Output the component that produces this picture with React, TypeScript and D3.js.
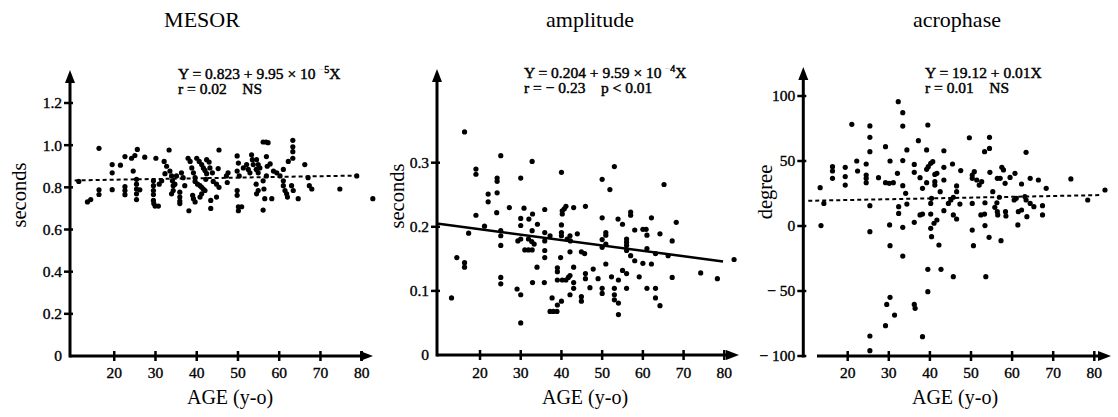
import React from "react";
import * as d3 from "d3";

// ---------- DATA ----------
const xTicks = [20, 30, 40, 50, 60, 70, 80];
const titles = ["MESOR", "amplitude", "acrophase"];
const yLabels = ["seconds", "seconds", "degree"];
const xLabel = "AGE (y-o)";

const mesorTicks = [0, 0.2, 0.4, 0.6, 0.8, 1.0, 1.2];
const mesorTickLabels = ["0", "0.2", "0.4", "0.6", "0.8", "1.0", "1.2"];
const ampTicks = [0, 0.1, 0.2, 0.3];
const ampTickLabels = ["0", "0.1", "0.2", "0.3"];
const acroTicks = [-100, -50, 0, 50, 100];
const acroTickLabels = ["− 100", "− 50", "0", "50", "100"];

// MESOR: [age, seconds]
const mesorPts: [number, number][] = [
  [11.4, 0.828], [13.5, 0.731], [14.3, 0.742], [16.3, 0.985], [16.3, 0.788], [16.3, 0.766],
  [19.5, 0.908], [19.5, 0.869], [19.5, 0.789], [21.5, 0.905], [22.6, 0.946], [22.6, 0.803],
  [22.6, 0.785], [22.6, 0.765], [24.2, 0.938], [25.0, 0.951], [25.6, 0.98], [24.6, 0.877],
  [25.4, 0.838], [25.4, 0.815], [25.4, 0.792], [25.4, 0.769], [25.4, 0.742], [26.2, 0.788],
  [27.4, 0.943], [30.1, 0.938], [29.5, 0.831], [29.5, 0.808], [29.5, 0.785], [29.5, 0.766],
  [29.5, 0.738], [29.6, 0.723], [29.9, 0.711], [30.7, 0.711], [30.9, 0.815], [31.5, 0.831],
  [32.3, 0.865], [33.3, 0.977], [32.1, 0.923], [32.7, 0.9], [33.5, 0.877], [33.9, 0.854],
  [34.1, 0.831], [34.3, 0.808], [33.9, 0.769], [35.1, 0.854], [34.7, 0.815], [34.3, 0.785],
  [36.3, 0.869], [36.7, 0.846], [35.9, 0.777], [35.9, 0.754], [35.9, 0.735], [35.9, 0.723],
  [37.1, 0.808], [38.1, 0.689], [37.9, 0.938], [38.4, 0.923], [38.8, 0.892], [39.2, 0.869],
  [39.6, 0.846], [39.6, 0.828], [39.0, 0.762], [39.2, 0.746], [39.6, 0.731], [40.0, 0.938],
  [40.6, 0.923], [41.2, 0.908], [41.6, 0.892], [42.0, 0.88], [42.4, 0.865], [42.2, 0.838],
  [40.2, 0.815], [40.8, 0.808], [41.2, 0.8], [41.6, 0.792], [42.0, 0.785], [40.8, 0.754],
  [41.2, 0.769], [43.4, 0.738], [43.4, 0.7], [42.4, 0.931], [43.0, 0.92], [43.2, 0.892],
  [43.8, 0.869], [44.0, 0.828], [45.2, 0.889], [44.8, 0.815], [45.4, 0.977], [45.4, 0.8],
  [44.8, 0.754], [47.2, 0.854], [47.6, 0.869], [47.4, 0.823], [49.8, 0.949], [50.1, 0.915],
  [49.8, 0.877], [50.3, 0.854], [49.8, 0.785], [49.8, 0.762], [50.1, 0.708], [50.1, 0.689],
  [50.9, 0.708], [51.3, 0.892], [52.1, 0.908], [52.5, 0.885], [52.9, 0.869], [53.3, 0.954],
  [53.5, 0.931], [53.7, 0.908], [54.4, 0.885], [54.5, 0.931], [54.9, 0.908], [55.3, 0.892],
  [54.9, 0.869], [54.4, 0.815], [54.9, 0.785], [54.5, 0.769], [56.1, 1.015], [56.8, 1.015],
  [57.3, 1.012], [56.9, 0.946], [57.1, 0.9], [56.9, 0.854], [56.1, 0.831], [56.3, 0.792],
  [56.5, 0.746], [56.1, 0.692], [57.8, 0.911], [58.6, 0.877], [58.2, 0.746], [63.3, 1.023],
  [63.3, 0.992], [63.3, 0.969], [63.3, 0.938], [61.0, 0.885], [62.2, 0.923], [59.4, 0.869],
  [60.2, 0.854], [61.0, 0.831], [61.0, 0.808], [61.4, 0.785], [61.8, 0.769], [62.0, 0.754],
  [63.0, 0.808], [63.4, 0.785], [64.6, 0.746], [66.2, 0.908], [67.0, 0.846], [67.3, 0.808],
  [67.9, 0.792], [74.7, 0.792], [78.8, 0.854], [82.7, 0.746],
];

// amplitude: [age, seconds]
const ampPts: [number, number][] = [
  [16.2, 0.348], [13.0, 0.089], [14.3, 0.152], [16.2, 0.144], [16.2, 0.137], [17.2, 0.19],
  [19.0, 0.29], [19.0, 0.282], [19.0, 0.218], [21.1, 0.201], [22.0, 0.251], [22.0, 0.239],
  [24.2, 0.276], [24.2, 0.271], [24.2, 0.253], [24.1, 0.222], [25.1, 0.311], [25.1, 0.194],
  [25.1, 0.186], [25.1, 0.171], [25.1, 0.121], [25.1, 0.111], [27.2, 0.23], [29.1, 0.103],
  [30.0, 0.276], [30.0, 0.213], [30.0, 0.202], [29.3, 0.178], [30.0, 0.181], [30.0, 0.094],
  [30.0, 0.05], [30.8, 0.229], [32.8, 0.302], [32.0, 0.212], [32.9, 0.22], [32.8, 0.194],
  [31.0, 0.164], [31.9, 0.164], [32.8, 0.164], [31.9, 0.181], [32.7, 0.177], [33.3, 0.173],
  [34.1, 0.204], [34.0, 0.137], [32.9, 0.113], [35.9, 0.227], [35.9, 0.191], [35.9, 0.178],
  [35.9, 0.163], [35.9, 0.152], [35.8, 0.113], [37.2, 0.186], [37.2, 0.068], [38.0, 0.068],
  [38.9, 0.068], [37.7, 0.089], [39.0, 0.078], [39.0, 0.136], [39.0, 0.13], [39.8, 0.152],
  [39.0, 0.117], [40.2, 0.117], [40.0, 0.285], [40.0, 0.203], [40.0, 0.191], [40.0, 0.186],
  [40.2, 0.225], [40.7, 0.228], [41.1, 0.232], [40.2, 0.22], [40.0, 0.084], [41.1, 0.117],
  [41.7, 0.121], [42.1, 0.124], [41.4, 0.181], [42.1, 0.186], [42.2, 0.178], [42.1, 0.161],
  [43.0, 0.23], [43.0, 0.137], [43.0, 0.113], [43.0, 0.104], [42.1, 0.094], [43.9, 0.189],
  [44.9, 0.161], [45.7, 0.158], [44.9, 0.091], [44.9, 0.084], [45.9, 0.232], [45.9, 0.127],
  [45.9, 0.119], [47.0, 0.105], [47.8, 0.134], [49.0, 0.119], [50.0, 0.214], [50.0, 0.18],
  [50.0, 0.168], [50.0, 0.104], [50.0, 0.096], [50.0, 0.274], [50.9, 0.191], [50.9, 0.187],
  [50.9, 0.173], [50.9, 0.142], [51.9, 0.258], [52.3, 0.122], [53.0, 0.294], [53.0, 0.104],
  [53.0, 0.094], [53.0, 0.086], [53.9, 0.212], [54.0, 0.117], [54.0, 0.081], [54.0, 0.063],
  [55.0, 0.204], [55.0, 0.132], [56.0, 0.127], [56.0, 0.181], [56.0, 0.176], [56.0, 0.171],
  [56.0, 0.163], [56.0, 0.104], [57.0, 0.223], [57.0, 0.218], [57.0, 0.155], [58.0, 0.195],
  [58.0, 0.147], [59.1, 0.122], [60.0, 0.196], [60.8, 0.196], [60.0, 0.143], [61.0, 0.187],
  [61.0, 0.166], [61.0, 0.104], [62.1, 0.214], [62.1, 0.142], [63.1, 0.158], [63.1, 0.104],
  [63.1, 0.089], [64.2, 0.189], [64.2, 0.077], [65.2, 0.266], [66.2, 0.155], [67.2, 0.178],
  [67.2, 0.121], [68.2, 0.207], [74.2, 0.128], [78.3, 0.119], [82.4, 0.149],
];

// acrophase: [age, degree]
const acroPts: [number, number][] = [
  [13.3, 29.5], [13.5, 0.3], [14.2, 17.4], [16.3, 45.6], [16.3, 42.3], [16.3, 36.7],
  [19.4, 45.1], [19.4, 38], [19.4, 31.5], [21.0, 78.2], [22.2, 50], [22.4, 42.3],
  [24.5, 47.7], [24.5, 39.2], [24.5, 36.7], [24.5, 33.3], [25.4, 77], [25.4, 68.2],
  [25.4, 57.2], [25.4, 15.6], [25.4, -4.4], [25.4, -84.6], [25.4, -95.9], [27.5, 37.2],
  [29.2, 61], [29.2, 33.3], [30.1, 32.8], [31.1, 33.3], [30.2, 0.8], [30.3, 50],
  [30.3, -15.1], [29.5, -60.3], [30.3, -54.9], [29.2, -76.7], [31.4, -68.5], [32.1, 40.5],
  [32.3, 95.6], [32.4, 14.9], [32.4, 9.7], [33.4, 87.2], [33.4, 76.9], [33.4, 50.3],
  [33.4, 31], [33.4, -1], [33.4, -23.1], [34.1, 25.1], [34.4, 16.9], [34.4, 58.5],
  [36.2, 47.4], [36.2, 41.3], [36.2, 2.8], [36.2, -60.3], [36.4, -63.3], [37.2, 65.6],
  [37.6, 37.2], [37.6, 8.5], [38.2, 9.2], [38.2, 29], [39.2, 58.5], [39.5, 77.7],
  [39.2, 33.3], [39.2, 43.6], [39.6, 45.6], [40.2, 48.2], [40.7, 49.5], [39.5, -33.3],
  [39.5, -50.5], [38.2, -85.1], [40.2, 17.4], [40.2, 9.2], [40.2, -1.8], [40.4, -8.2],
  [40.4, 21.3], [41.2, 39.7], [41.2, 34.1], [41.2, 31.5], [41.7, 40.5], [41.0, 2.1],
  [41.7, 4.6], [42.2, -14.6], [42.5, 26.4], [42.7, -33.3], [43.4, 57.9], [43.4, 45.1],
  [43.4, 35.4], [43.4, 11.8], [44.5, 17.4], [45.1, 20], [45.7, 22.1], [45.5, 47.7],
  [45.7, -39], [45.7, 8.5], [46.5, 30.8], [46.5, 26.4], [46.5, 5.4], [47.5, 42.6],
  [47.3, 16.9], [49.6, 67.9], [50.3, 39.2], [50.3, 36.7], [50.3, 17.4], [50.3, -3.1],
  [50.6, -15.1], [50.8, 41.8], [51.4, 35.4], [52.0, 31.5], [52.6, 34.1], [52.4, 8.5],
  [53.3, 9.2], [53.3, 57.2], [54.5, 68.2], [54.5, 59.7], [53.4, 17.9], [53.4, 0.3],
  [53.6, -39], [54.4, -8.7], [54.6, 41.3], [55.3, 26.4], [55.8, 14.4], [56.3, 17.9],
  [56.4, 11], [56.9, 22.1], [56.5, 8.5], [56.4, 36.7], [57.1, 36.7], [57.3, -11.3],
  [57.5, 45.1], [57.9, 43.1], [58.3, 32.8], [58.4, 11], [58.5, 7.7], [59.5, 37.4],
  [60.7, 40.5], [60.5, 20], [61.0, 21.3], [61.4, 0.8], [61.5, 11], [62.3, 12.3],
  [62.3, 32.3], [63.4, 56.7], [63.1, 22.6], [63.4, 20], [63.6, 7.2], [64.4, 17.4],
  [64.4, 36.7], [65.3, 14.9], [66.4, 35.4], [67.4, 15.6], [67.4, 8.5], [68.3, 29],
  [74.3, 36.2], [78.4, 20], [82.6, 27.7],
];

// fitted regression lines as drawn: [age, value]
const mesorFit: [number, number][] = [[10.4, 0.833], [79.6, 0.856]];
const ampFit: [number, number][] = [[9.4, 0.205], [79.7, 0.146]];
const acroFit: [number, number][] = [[10.4, 19.4], [81.8, 23.8]];

// regression text
const eqMesor = { pre: "Y = 0.823 + 9.95 × 10", exp: "5", post: "X", stat: "r = 0.02    NS" };
const eqAmp = { pre: "Y = 0.204 + 9.59 × 10", exp: "4", post: "X", stat: "r = − 0.23    p < 0.01" };
const eqAcro = { pre: "Y = 19.12 + 0.01X", exp: "", post: "", stat: "r = 0.01    NS" };

// ---------- LAYOUT ----------
const FONT = "'Liberation Serif', 'Times New Roman', serif";

type PanelCfg = {
  title: string;
  titleX: number;
  yLabel: string;
  yLabelPos: [number, number];
  axisX: number;
  xRange: [number, number];
  xAxisStart: number;
  xAxisEnd: number;
  yDomain: [number, number];
  yRange: [number, number];
  yTop: number;
  yTicks: number[];
  yTickLabels: string[];
  pts: [number, number][];
  fit: [number, number][];
  dashed: boolean;
  eq: { pre: string; exp: string; post: string; stat: string };
  eqPos: [number, number];
  xLabelX: number;
};

const panels: PanelCfg[] = [
  {
    title: titles[0], titleX: 202, yLabel: yLabels[0], yLabelPos: [19, 195],
    axisX: 70, xRange: [73, 361.7], xAxisStart: 70, xAxisEnd: 373,
    yDomain: [0, 1.2], yRange: [356, 103], yTop: 70,
    yTicks: mesorTicks, yTickLabels: mesorTickLabels,
    pts: mesorPts, fit: mesorFit, dashed: true, eq: eqMesor, eqPos: [178, 79], xLabelX: 230,
  },
  {
    title: titles[1], titleX: 590, yLabel: yLabels[1], yLabelPos: [397, 196],
    axisX: 437, xRange: [439.3, 724.3], xAxisStart: 437, xAxisEnd: 739,
    yDomain: [0, 0.3], yRange: [355, 162.7], yTop: 69,
    yTicks: ampTicks, yTickLabels: ampTickLabels,
    pts: ampPts, fit: ampFit, dashed: false, eq: eqAmp, eqPos: [524, 78], xLabelX: 585,
  },
  {
    title: titles[2], titleX: 957, yLabel: yLabels[2], yLabelPos: [765, 192],
    axisX: 803.3, xRange: [806.6, 1094.3], xAxisStart: 817, xAxisEnd: 1111,
    yDomain: [-100, 100], yRange: [356, 96], yTop: 67,
    yTicks: acroTicks, yTickLabels: acroTickLabels,
    pts: acroPts, fit: acroFit, dashed: true, eq: eqAcro, eqPos: [925, 78], xLabelX: 955,
  },
];

function Panel({ c }: { c: PanelCfg }) {
  const x = d3.scaleLinear().domain([10, 80]).range(c.xRange);
  const y = d3.scaleLinear().domain(c.yDomain).range(c.yRange);
  const y0 = y(c.yDomain[0]);
  const line = d3.line<[number, number]>().x((d) => x(d[0])).y((d) => y(d[1]));
  const ax = c.axisX;
  return (
    <g>
      <text x={c.titleX} y={27} textAnchor="middle" fontFamily={FONT} fontSize={22}>
        {c.title}
      </text>
      <text
        x={c.yLabelPos[0]} y={c.yLabelPos[1]} fontFamily={FONT} fontSize={20.5}
        textAnchor="middle" dominantBaseline="central"
        transform={`rotate(-90 ${c.yLabelPos[0]} ${c.yLabelPos[1]})`}
      >
        {c.yLabel}
      </text>
      <text x={c.xLabelX} y={404} textAnchor="middle" fontFamily={FONT} fontSize={20}>
        {xLabel}
      </text>
      {/* equation */}
      <g fontFamily={FONT} fontSize={15.5} stroke="#000" strokeWidth={0.45}>
        <text x={c.eqPos[0]} y={c.eqPos[1]}>
          {c.eq.pre}
          {c.eq.exp && (
            <>
              <tspan dx={3} dy={-6} fontSize={10} fill="#bbb" stroke="none">−</tspan>
              <tspan dy={0} fontSize={10}>{c.eq.exp}</tspan>
              <tspan dy={6}>{c.eq.post}</tspan>
            </>
          )}
        </text>
        <text x={c.eqPos[0]} y={c.eqPos[1] + 15} xmlSpace="preserve">{c.eq.stat}</text>
      </g>
      {/* axes */}
      <line x1={ax} x2={ax} y1={y0 + 1.5} y2={c.yTop + 8} stroke="#000" strokeWidth={3} />
      <path d={`M${ax},${c.yTop} L${ax - 5},${c.yTop + 13} L${ax + 5},${c.yTop + 13} Z`} fill="#000" />
      <line x1={c.xAxisStart} x2={c.xAxisEnd - 8} y1={y0} y2={y0} stroke="#000" strokeWidth={3} />
      <path d={`M${c.xAxisEnd},${y0} L${c.xAxisEnd - 13},${y0 - 5} L${c.xAxisEnd - 13},${y0 + 5} Z`} fill="#000" />
      {c.yTicks.map((t, i) => (
        <g key={t}>
          {i > 0 || c.yDomain[0] < 0 ? (
            <line x1={ax - 6} x2={ax + 3} y1={y(t)} y2={y(t)} stroke="#000" strokeWidth={2.5} />
          ) : null}
          <text
            x={ax - 8} y={y(t)} dy="0.35em" textAnchor="end" fontFamily={FONT} fontSize={15.5}
            stroke="#000" strokeWidth={0.35} xmlSpace="preserve"
          >
            {c.yTickLabels[i]}
          </text>
        </g>
      ))}
      {xTicks.map((t) => (
        <g key={t}>
          <line x1={x(t)} x2={x(t)} y1={y0 - 5} y2={y0 + 5} stroke="#000" strokeWidth={2.5} />
          <text x={x(t)} y={378} textAnchor="middle" fontFamily={FONT} fontSize={15.5} stroke="#000" strokeWidth={0.35}>
            {t}
          </text>
        </g>
      ))}
      {/* fit */}
      <path
        d={line(c.fit) || ""} fill="none" stroke="#000"
        strokeWidth={c.dashed ? 2 : 2.5} strokeDasharray={c.dashed ? "4 3" : undefined}
      />
      {/* points */}
      {c.pts.map((p, i) => (
        <circle key={i} cx={x(p[0])} cy={y(p[1])} r={2.6} fill="#000" />
      ))}
    </g>
  );
}

export default function App() {
  return (
    <svg
      width={1118} height={417}
      style={{ position: "absolute", left: 0, top: 0, background: "#fff" }}
    >
      <rect width={1118} height={417} fill="#fff" />
      {panels.map((c, i) => (
        <Panel key={i} c={c} />
      ))}
    </svg>
  );
}
